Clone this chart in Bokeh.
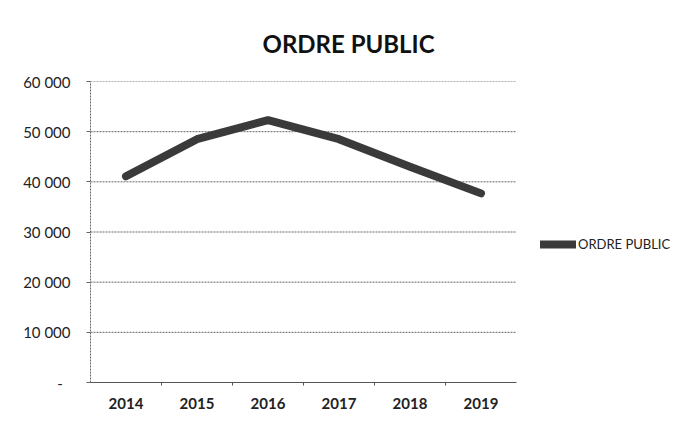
from bokeh.plotting import figure
from bokeh.models import FixedTicker, Range1d, Legend, LegendItem
from bokeh.embed import file_html
from bokeh.resources import INLINE

years = [2014, 2015, 2016, 2017, 2018, 2019]
values = [41100, 48500, 52300, 48500, 43000, 37700]
series_name = "ORDRE PUBLIC"
title_text = "ORDRE PUBLIC"
y_ticks = [0, 10000, 20000, 30000, 40000, 50000, 60000]
y_tick_labels = ["-\u00a0\u00a0", "10 000", "20 000", "30 000", "40 000", "50 000", "60 000"]
x_tick_labels = ["2014", "2015", "2016", "2017", "2018", "2019"]

FONT = "Lato"

W, H = 675, 421
LEFT, TOP, BOTTOM = 90, 81, 39
PLOT_W = 426          # width of the part holding the categories
frame_w = W - LEFT
x0 = years[0] - 0.5
x1 = years[-1] + 0.5
x_end = x0 + (x1 - x0) * frame_w / PLOT_W

p = figure(width=W, height=H, output_backend="svg", toolbar_location=None,
           x_range=Range1d(x0, x_end),
           y_range=Range1d(y_ticks[0], y_ticks[-1]),
           min_border_left=LEFT, min_border_right=0, min_border_top=TOP, min_border_bottom=BOTTOM)

p.title.text = title_text
p.title.text_font = FONT
p.title.text_font_size = "24px"
p.title.text_font_style = "bold"
p.title.text_color = "#111111"
p.title.align = "left"
p.title.offset = 172
p.title.standoff = 47

p.outline_line_color = None
p.background_fill_color = "white"
p.border_fill_color = "white"

# grid (drawn as segments limited to the category area)
p.xgrid.grid_line_color = None
p.ygrid.grid_line_color = None
grid_y = y_ticks[1:]
p.segment(x0=[x0] * len(grid_y), x1=[x1] * len(grid_y), y0=grid_y, y1=grid_y,
          line_color="#666666", line_dash="2 1", line_width=1)

# y axis
p.yaxis.ticker = FixedTicker(ticks=y_ticks)
p.yaxis.major_label_overrides = {t: l for t, l in zip(y_ticks, y_tick_labels)}
p.yaxis.major_label_text_font = FONT
p.yaxis.major_label_text_font_size = "15px"
p.yaxis.major_label_text_color = "#222222"
p.yaxis.major_label_standoff = 16
p.yaxis.axis_line_color = "#666666"
p.yaxis.axis_line_dash = "2 1"
p.yaxis.major_tick_line_color = "#666666"
p.yaxis.major_tick_out = 4
p.yaxis.major_tick_in = 0
p.yaxis.minor_tick_line_color = None

# x axis
bounds = [y + 0.5 for y in years[:-1]]
p.xaxis.ticker = FixedTicker(ticks=years, minor_ticks=bounds)
p.xaxis.bounds = (x0, x1)
p.xaxis.major_label_overrides = {y: l for y, l in zip(years, x_tick_labels)}
p.xaxis.major_label_text_font = FONT
p.xaxis.major_label_text_font_size = "15px"
p.xaxis.major_label_text_font_style = "bold"
p.xaxis.major_label_text_color = "#222222"
p.xaxis.major_label_standoff = 9
p.xaxis.axis_line_color = "#555555"
p.xaxis.major_tick_line_color = None
p.xaxis.minor_tick_line_color = "#555555"
p.xaxis.minor_tick_out = 3
p.xaxis.minor_tick_in = 0

r = p.line(years, values, line_color="#3a3a3a", line_width=8, line_cap="round", line_join="round")

legend = Legend(items=[LegendItem(label=series_name, renderers=[r])],
                location=(450, 130), orientation="vertical",
                border_line_color=None, background_fill_alpha=0,
                padding=0, margin=0, glyph_width=36, glyph_height=14,
                label_standoff=2, label_text_font=FONT,
                label_text_font_size="13px", label_text_color="#222222")
p.add_layout(legend, "center")

open("out.html", "w").write(file_html(p, INLINE))
